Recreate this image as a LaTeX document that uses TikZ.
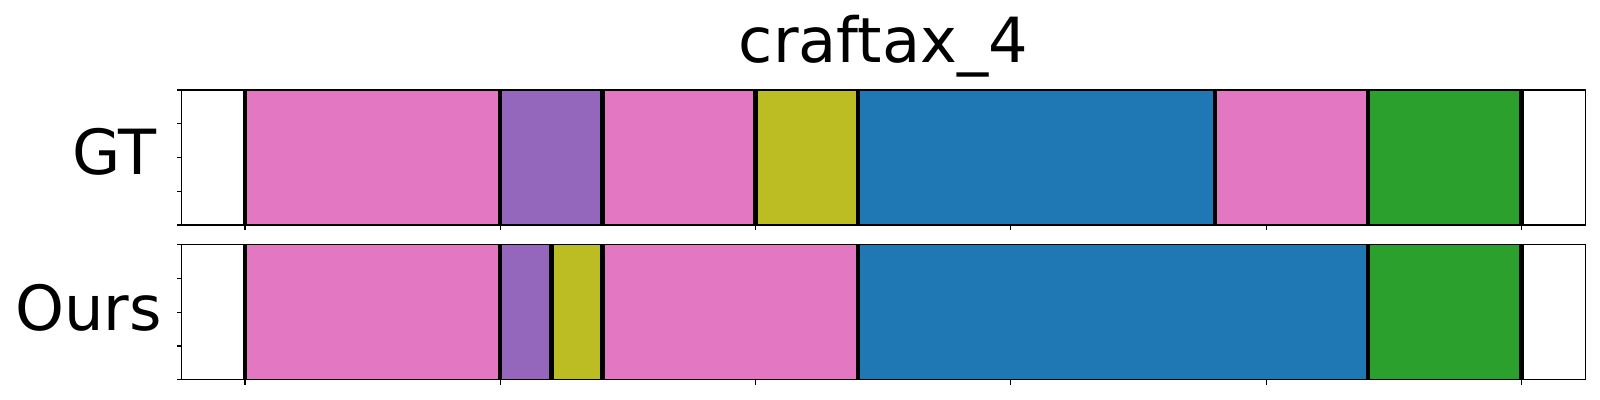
\documentclass[tikz,border=0pt]{standalone}
\usepackage{fontspec}
\setmainfont{DejaVu Sans}
\definecolor{tabblue}{HTML}{1F77B4}
\definecolor{tabgreen}{HTML}{2CA02C}
\definecolor{tabpurple}{HTML}{9467BD}
\definecolor{tabpink}{HTML}{E377C2}
\definecolor{tabolive}{HTML}{BCBD22}

\begin{document}
\begin{tikzpicture}[x=0.254mm, y=-0.254mm,
    bound/.style={line width=3.1pt, black},
    tickmark/.style={line width=0.8pt, black},
    frame/.style={line width=0.8pt, black},
    lbl/.style={inner sep=0pt, font=\fontsize{45}{54}\selectfont}]
    \useasboundingbox (0,0) rectangle (1600,400);
    %title and row labels
    \node[lbl, anchor=base] (title) at (883.4,62.3) {craftax\_4};
    \node[lbl, anchor=base east] (gt) at (156.5,174.5) {GT};
    \node[lbl, anchor=base east] (ours) at (162.3,330.5) {Ours};
    %GT row
    \coordinate (GTtl) at (181.7,90);
    \coordinate (GTbr) at (1585.7,225);
    \foreach \a/\b/\col in {0/50/tabpink, 50/70/tabpurple, 70/100/tabpink, 100/120/tabolive, 120/190/tabblue, 190/220/tabpink, 220/250/tabgreen}
      \fill[\col] (245+5.106*\a,90) rectangle (245+5.106*\b,225);
    \foreach \t in {0,50,70,100,120,190,220,250}
      \draw[bound] (245+5.106*\t,90) -- (245+5.106*\t,225);
    \draw[frame] (GTtl) rectangle (GTbr);
    \foreach \i in {0,...,5}
      \draw[tickmark] (245+255.3*\i,225) -- ++(0,4.86);
    \foreach \j in {0,...,4}
      \draw[tickmark] (181.7,90+33.75*\j) -- ++(-4.86,0);
    %Ours row
    \coordinate (OUtl) at (181.7,244.8);
    \coordinate (OUbr) at (1585.7,379.8);
    \foreach \a/\b/\col in {0/50/tabpink, 50/60/tabpurple, 60/70/tabolive, 70/120/tabpink, 120/220/tabblue, 220/250/tabgreen}
      \fill[\col] (245+5.106*\a,244.8) rectangle (245+5.106*\b,379.8);
    \foreach \t in {0,50,60,70,120,220,250}
      \draw[bound] (245+5.106*\t,244.8) -- (245+5.106*\t,379.8);
    \draw[frame] (OUtl) rectangle (OUbr);
    \foreach \i in {0,...,5}
      \draw[tickmark] (245+255.3*\i,379.8) -- ++(0,4.86);
    \foreach \j in {0,...,4}
      \draw[tickmark] (181.7,244.8+33.75*\j) -- ++(-4.86,0);
\end{tikzpicture}
\end{document}
